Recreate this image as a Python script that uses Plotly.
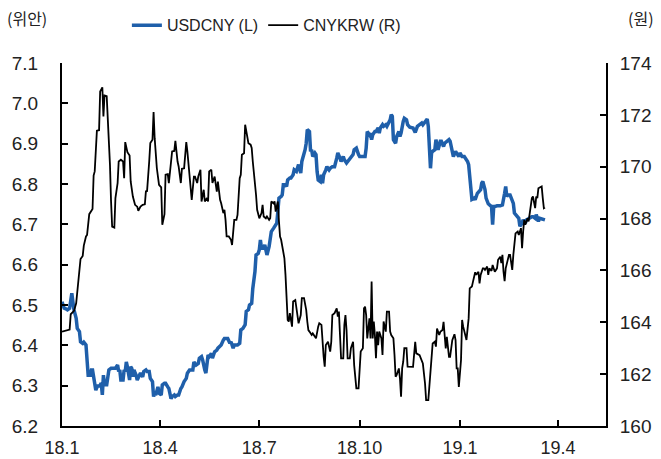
import pandas as pd
import plotly.graph_objects as go

# USDCNY (left axis, 위안) : days since 2018-01-01 and values
usdcny_day = [0,2,4,5,7,8,9,10,11,13,14,16,17,19,20,22,23,24,26,27,28,30,31,33,34,36,37,38,39,41,42,43,45,46,48,49,51,52,53,54,56,57,58,59,60,62,63,64,65,66,68,69,71,72,74,75,77,78,80,81,83,84,85,86,88,89,91,92,94,95,97,98,100,101,103,104,106,107,109,110,112,114,115,117,118,120,121,
              123,125,126,128,129,131,132,134,135,137,138,140,142,143,145,146,148,149,151,152,154,155,157,158,160,161,163,164,166,168,169,171,172,174,175,177,178,180,181,182,183,185,186,187,188,190,191,192,194,195,197,198,199,201,202,203,205,206,207,209,210,212,213,215,217,218,219,220,222,223,224,225,227,228,229,230,232,233,234,235,237,238,239,240,242,243,245,246,248,250,
              252,253,255,256,258,259,261,262,264,265,267,268,270,272,273,275,276,278,279,280,282,283,284,285,287,288,290,291,292,294,295,297,298,300,301,302,303,304,306,307,309,310,311,313,314,316,317,
              319,322,324,326,328,330,331,334,335,336,337,338,339,340,342,343,345,347,348,350,351,353,355,356,358,359,361,362,364,365,367,369,370,372,373,374,375,376,378,379,381,382,384,385,386,388,389,391,392,394,395,396,397,399,402,404,406,407,408,409,411,412,414,415,416,418,419,420,422,423,425,426,428,429,431,432,434,435,437,438,440,441,443]
usdcny_val = [6.508,6.492,6.490,6.488,6.492,6.521,6.529,6.508,6.488,6.467,6.442,6.434,6.409,6.405,6.408,6.401,6.368,6.326,6.326,6.339,6.339,6.306,6.289,6.302,6.297,6.306,6.277,6.326,6.302,6.302,6.326,6.339,6.343,6.343,6.343,6.343,6.351,6.335,6.339,6.314,6.314,6.339,6.335,6.359,6.347,6.314,6.347,6.343,6.322,6.339,6.326,6.314,6.326,6.331,6.322,6.335,6.339,6.335,6.335,6.318,6.310,6.273,6.281,6.277,6.297,6.281,6.277,6.302,6.306,6.306,6.297,6.293,6.268,6.273,6.277,6.273,6.277,6.277,6.293,6.297,6.310,6.318,6.331,6.339,6.339,6.339,6.359,
              6.351,6.355,6.368,6.372,6.364,6.339,6.331,6.376,6.372,6.380,6.368,6.384,6.388,6.393,6.397,6.401,6.413,6.417,6.417,6.417,6.405,6.409,6.393,6.401,6.401,6.401,6.405,6.438,6.442,6.451,6.484,6.488,6.500,6.504,6.541,6.583,6.624,6.628,6.637,6.661,6.641,6.641,6.649,6.628,6.624,6.645,6.670,6.682,6.690,6.695,6.703,6.732,6.765,6.769,6.773,6.798,6.798,6.794,6.810,6.815,6.815,6.823,6.835,6.831,6.848,6.839,6.827,6.856,6.873,6.885,6.901,6.935,6.930,6.881,6.885,6.868,6.877,6.873,6.831,6.810,6.806,6.823,6.802,6.823,6.835,6.843,6.835,6.839,6.843,6.843,
              6.864,6.877,6.864,6.856,6.868,6.860,6.852,6.856,6.864,6.868,6.873,6.885,6.889,6.873,6.868,6.868,6.868,6.868,6.889,6.930,6.922,6.926,6.910,6.922,6.930,6.930,6.939,6.926,6.939,6.947,6.943,6.947,6.943,6.955,6.959,6.972,6.968,6.910,6.901,6.918,6.930,6.918,6.926,6.955,6.963,6.959,6.947,
              6.941,6.939,6.928,6.943,6.947,6.951,6.947,6.959,6.961,6.943,6.885,6.839,6.877,6.881,6.885,6.910,6.885,6.906,6.906,6.893,6.901,6.906,6.910,6.906,6.885,6.868,6.881,6.877,6.868,6.877,6.868,6.868,6.864,6.856,6.848,6.819,6.777,6.762,6.765,6.761,6.777,6.781,6.786,6.802,6.806,6.786,6.765,6.751,6.748,6.744,6.699,6.744,6.744,6.746,6.746,6.748,6.777,6.794,6.769,6.773,6.773,6.765,6.752,6.728,6.724,6.719,6.715,6.695,6.703,6.711,6.703,6.711,6.715,6.715,6.719,6.719,6.715,6.724,6.707,6.715,6.713,6.711,6.711]

# CNYKRW (right axis, 원) : days since 2018-01-01 and values
cnykrw_day = [0,4,7,8,10,11,13,14,16,17,19,20,22,23,25,26,28,29,30,32,34,35,37,38,39,41,43,44,45,46,48,49,51,52,54,56,57,58,60,62,63,65,67,69,70,72,74,76,77,78,80,81,83,84,85,87,89,91,92,94,95,97,98,100,101,103,104,106,107,109,110,112,114,115,117,118,119,121,
              122,124,125,127,128,130,131,133,134,135,137,138,140,142,143,145,146,148,149,150,151,153,155,156,157,158,160,161,163,164,165,167,168,170,171,173,174,175,177,178,179,180,181,183,184,185,187,188,190,191,192,194,195,196,198,199,200,201,203,204,205,206,207,208,209,211,212,214,216,217,219,220,222,224,225,226,227,229,230,232,233,235,236,238,239,240,241,242,244,246,247,248,250,
              252,253,254,255,256,258,259,260,261,262,264,265,267,268,270,272,274,276,277,278,279,280,282,283,284,285,286,287,288,289,290,291,293,294,295,297,298,300,301,302,304,305,306,307,309,310,311,312,313,314,316,317,
              319,322,324,325,328,331,333,334,336,337,339,340,342,343,344,346,347,349,350,352,353,355,356,358,360,361,362,363,364,366,367,368,
              371,373,374,376,377,379,380,382,383,384,386,387,388,390,391,392,394,395,397,399,400,402,403,404,405,406,407,409,410,411,412,413,414,415,416,418,419,421,422,423,424,425,426,427,428,429,431,432,434,435,436,437,439,440,441,442,443]
cnykrw_val = [163.64,163.69,163.72,164.31,164.39,164.44,164.73,165.16,165.95,166.44,166.56,166.96,167.31,167.37,168.17,168.25,168.37,169.66,169.82,171.39,171.41,172.90,173.06,171.94,172.75,172.72,171.23,170.07,168.66,167.69,167.65,168.79,169.37,170.20,170.27,170.20,169.56,170.95,170.56,170.43,169.43,168.85,168.53,168.46,168.30,168.46,168.53,168.55,169.07,169.04,170.20,170.91,171.04,172.11,171.10,169.94,169.30,169.20,167.76,168.17,169.69,169.71,169.37,170.07,170.59,170.61,171.00,170.20,170.01,169.37,169.92,169.94,170.95,170.59,169.62,169.11,168.72,169.62,
              169.62,169.37,169.62,169.88,168.66,169.11,168.66,168.79,168.66,169.82,169.88,169.37,169.62,169.04,169.43,168.72,168.59,168.21,168.34,167.95,167.31,167.31,167.18,166.98,167.50,167.95,167.95,168.14,169.56,169.69,170.46,170.52,171.62,171.17,170.91,170.85,170.72,170.20,169.43,168.91,168.34,168.14,168.01,168.21,168.53,168.08,168.01,168.08,167.95,168.01,168.66,168.59,168.66,168.27,168.66,167.89,167.31,167.18,166.73,166.47,165.83,164.80,164.09,164.03,164.35,163.83,164.80,164.86,164.35,163.96,164.28,164.93,164.93,164.48,164.03,163.70,163.64,163.51,163.57,163.45,163.38,163.83,163.96,163.90,162.99,162.67,162.29,163.12,163.25,162.87,163.25,164.28,164.35,
              164.54,164.22,164.41,163.51,162.61,162.61,163.90,164.28,163.70,162.61,162.61,163.00,163.25,162.35,161.45,161.45,162.87,163.00,164.54,164.60,164.28,163.38,164.15,163.38,165.57,163.38,164.03,163.51,162.61,163.64,163.12,163.64,163.38,162.74,164.03,163.64,164.41,164.41,163.64,163.51,163.38,162.74,161.90,161.97,162.22,161.84,161.13,162.22,162.48,163.00,163.00,162.29,
              162.28,162.28,163.25,162.80,162.73,162.41,161.64,161.00,161.00,161.64,162.54,163.18,163.25,163.06,163.76,163.51,163.63,163.70,164.02,162.99,163.44,162.67,162.67,163.31,163.54,163.31,162.22,162.22,161.51,162.54,164.09,163.83,
              163.32,164.15,165.31,165.38,165.57,165.93,165.83,165.95,165.50,165.83,166.08,166.08,166.02,166.15,165.83,166.08,165.98,166.21,165.95,166.08,166.41,166.53,166.28,166.60,165.95,165.59,166.08,166.47,166.60,166.60,166.34,166.02,166.60,166.98,167.43,167.50,167.37,167.63,166.86,167.50,167.95,167.76,167.89,168.01,167.89,168.27,168.79,168.85,168.40,168.85,168.79,169.17,169.24,169.24,168.79,168.40,168.43]

tick_dates = ["2018-01-01", "2018-04-01", "2018-07-01", "2018-10-01", "2019-01-01", "2019-04-01"]
tick_labels = ["18.1", "18.4", "18.7", "18.10", "19.1", "19.4"]

base = pd.Timestamp("2018-01-01")
usd_x = base + pd.to_timedelta(usdcny_day, unit="D")
krw_x = base + pd.to_timedelta(cnykrw_day, unit="D")

FONT = "Liberation Sans, Arial, sans-serif"
KFONT = "Noto Sans CJK KR, sans-serif"
TXT = "#222222"

fig = go.Figure()
fig.add_trace(go.Scatter(x=usd_x, y=usdcny_val, mode="lines", name="USDCNY (L)",
                         line=dict(color="#1F5FAA", width=3.5), yaxis="y"))
fig.add_trace(go.Scatter(x=krw_x, y=cnykrw_val, mode="lines", name="CNYKRW (R)",
                         line=dict(color="#000000", width=1.8), yaxis="y2"))

axis_common = dict(showline=True, linecolor="#000000", linewidth=2, ticks="inside",
                   ticklen=6, tickwidth=1.5, tickcolor="#000000", showgrid=False,
                   zeroline=False, automargin=False,
                   tickfont=dict(family=FONT, size=19, color=TXT))
x_axis_style = dict(axis_common, tickfont=dict(family=FONT, size=18, color=TXT))

fig.update_layout(
    width=661, height=459,
    margin=dict(l=62, r=55, t=63, b=33, autoexpand=False),
    paper_bgcolor="white", plot_bgcolor="white",
    xaxis=dict(type="date", range=["2018-01-01", "2019-05-15"], tickvals=tick_dates,
               ticktext=tick_labels, ticklabelstandoff=4, **x_axis_style),
    yaxis=dict(range=[6.2, 7.1], dtick=0.1, tick0=6.2, tickformat=".1f",
               ticklabelstandoff=18, **axis_common),
    yaxis2=dict(range=[160, 174], dtick=2, tick0=160, overlaying="y", side="right",
                ticklabelstandoff=8, **axis_common),
    showlegend=True,
    legend=dict(orientation="h", xref="container", yref="container",
                x=0.403, y=0.945, xanchor="center", yanchor="middle",
                font=dict(family=FONT, size=16, color=TXT),
                bgcolor="rgba(0,0,0,0)", itemwidth=30, tracegroupgap=0),
    annotations=[
        dict(text="(위안)", xref="paper", yref="paper", x=-0.064, y=1.124,
             xanchor="center", yanchor="middle", showarrow=False,
             font=dict(family=KFONT, size=16, color=TXT)),
        dict(text="(원)", xref="paper", yref="paper", x=1.064, y=1.124,
             xanchor="center", yanchor="middle", showarrow=False,
             font=dict(family=KFONT, size=16, color=TXT)),
    ],
)

fig.write_html("out.html", config={"displayModeBar": False},
               post_script="document.body.style.margin='0px';")
